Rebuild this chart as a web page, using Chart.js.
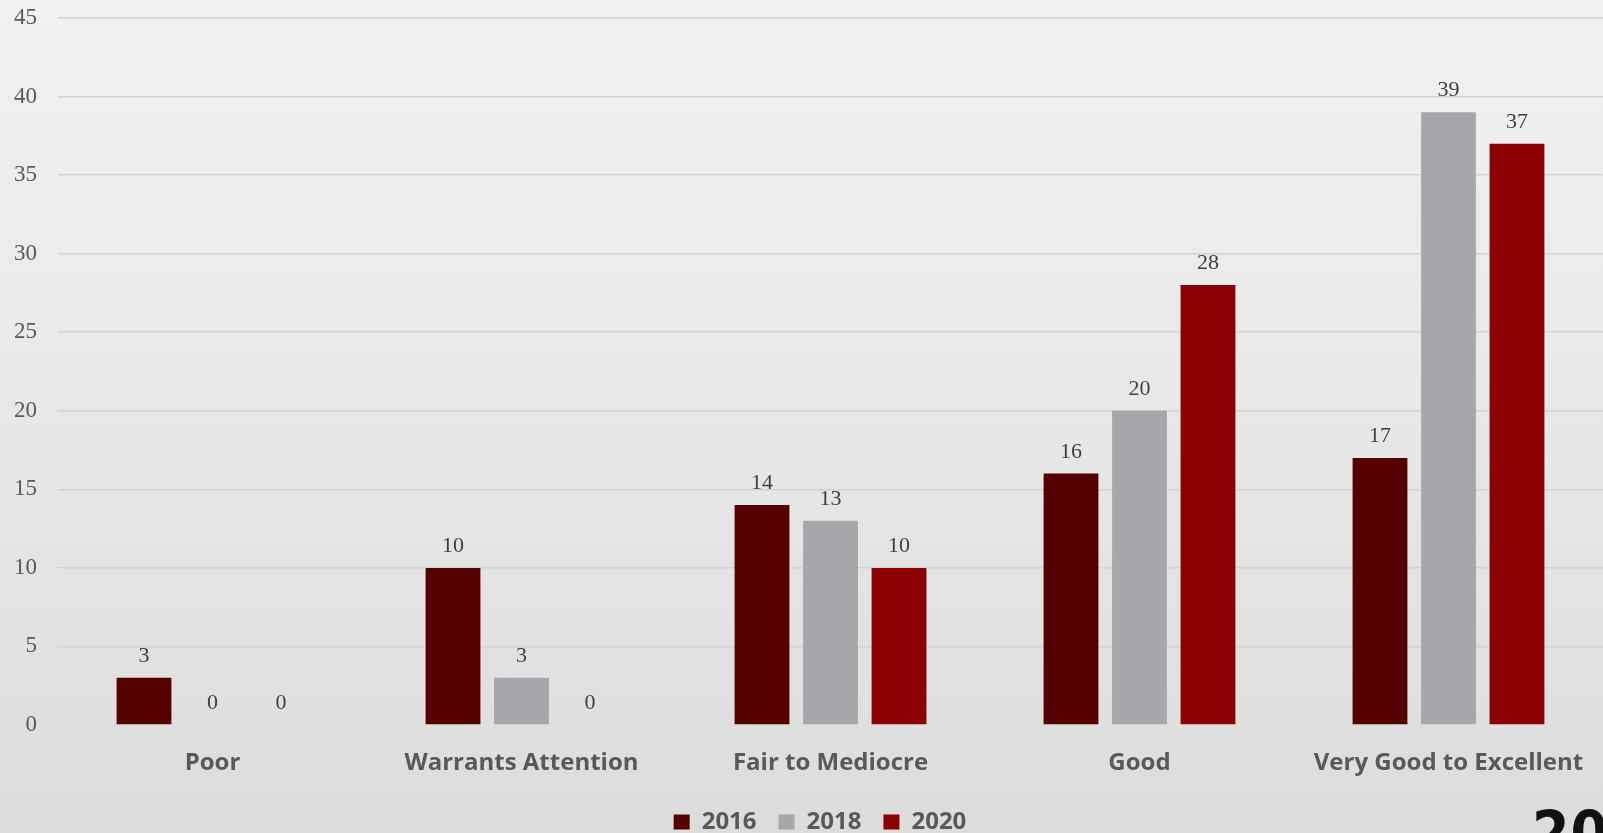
<!DOCTYPE html>
<html>
<head>
<meta charset="utf-8">
<script src="https://cdn.jsdelivr.net/npm/chart.js@4.4.1/dist/chart.umd.min.js"></script>
<style>
  html, body { margin: 0; padding: 0; }
  body {
    width: 1603px; height: 833px; overflow: hidden; position: relative;
    background: linear-gradient(to bottom, #f1f1f1 0%, #e9e9e9 45%, #dcdcdc 100%);
  }
  #wrap { position: absolute; left: 0; top: 0; width: 1603px; height: 833px; }
  #pg {
    position: absolute; left: 1532px; top: 803px;
    font-family: "Liberation Sans Narrow", "DejaVu Sans Condensed", sans-serif;
    font-weight: bold; font-size: 60px; line-height: 1; color: #111;
    letter-spacing: 1px;
  }
</style>
</head>
<body>
<div id="wrap"><canvas id="c" width="1603" height="833"></canvas></div>
<div id="pg">20</div>
<script>
const categories = ["Poor", "Warrants Attention", "Fair to Mediocre", "Good", "Very Good to Excellent"];
const seriesNames = ["2016", "2018", "2020"];
const values2016 = [3, 10, 14, 16, 17];
const values2018 = [0, 3, 13, 20, 39];
const values2020 = [0, 0, 10, 28, 37];
const yTickStep = 5;
const yMax = 45;

const colors = ["#540000", "#a6a6ab", "#8b0000"];
const seriesValues = [values2016, values2018, values2020];

const dataLabels = {
  id: 'dataLabels',
  afterDatasetsDraw(chart) {
    const ctx = chart.ctx;
    ctx.save();
    ctx.font = '22px "Liberation Serif", "DejaVu Serif", serif';
    ctx.fillStyle = '#404040';
    ctx.textAlign = 'center';
    ctx.textBaseline = 'alphabetic';
    chart.data.datasets.forEach((ds, i) => {
      const meta = chart.getDatasetMeta(i);
      meta.data.forEach((el, j) => {
        ctx.fillText(String(ds.data[j]), el.x, el.y - 16);
      });
    });
    ctx.restore();
  }
};

// place legend slightly right of canvas centre and lower, like the reference
const legendShift = {
  id: 'legendShift',
  afterLayout(chart) {
    const lg = chart.legend;
    if (!lg) return;
    const dx = 18.5, dy = 11;
    lg.left += dx; lg.right += dx;
    lg.top += dy; lg.bottom += dy;
  }
};

new Chart(document.getElementById('c'), {
  type: 'bar',
  data: {
    labels: categories,
    datasets: seriesNames.map((n, i) => ({
      label: n,
      data: seriesValues[i],
      backgroundColor: colors[i],
      borderWidth: 0,
      categoryPercentage: 0.665,
      barPercentage: 0.80
    }))
  },
  options: {
    responsive: false,
    animation: false,
    devicePixelRatio: 1,
    layout: { padding: { left: 0, right: 0, top: 18, bottom: 0 } },
    plugins: {
      legend: {
        position: 'bottom',
        labels: {
          boxWidth: 16, boxHeight: 15, padding: 22,
          color: '#595959',
          font: { family: '"Open Sans", Lato, sans-serif', weight: 'bold', size: 24 }
        }
      },
      tooltip: { enabled: false }
    },
    scales: {
      x: {
        grid: { display: false, drawTicks: false },
        border: { display: false },
        ticks: {
          color: '#595959', padding: 24,
          font: { family: '"Open Sans", Lato, sans-serif', weight: 'bold', size: 24 }
        },
        afterFit(s) { s.height = 52; s.paddingLeft = 0; s.paddingRight = 0; }
      },
      y: {
        min: 0, max: yMax,
        grid: {
          drawTicks: false,
          color: (c) => c.tick && c.tick.value === 0 ? 'rgba(0,0,0,0)' : '#d3d3d3',
          lineWidth: 1.5
        },
        border: { display: false },
        ticks: {
          stepSize: yTickStep,
          color: '#595959', padding: 21,
          font: { family: '"Liberation Serif", "DejaVu Serif", serif', size: 23 }
        },
        afterFit(s) { s.width = 58; s.paddingTop = 0; s.paddingBottom = 0; }
      }
    }
  },
  plugins: [dataLabels, legendShift]
});
</script>
</body>
</html>
